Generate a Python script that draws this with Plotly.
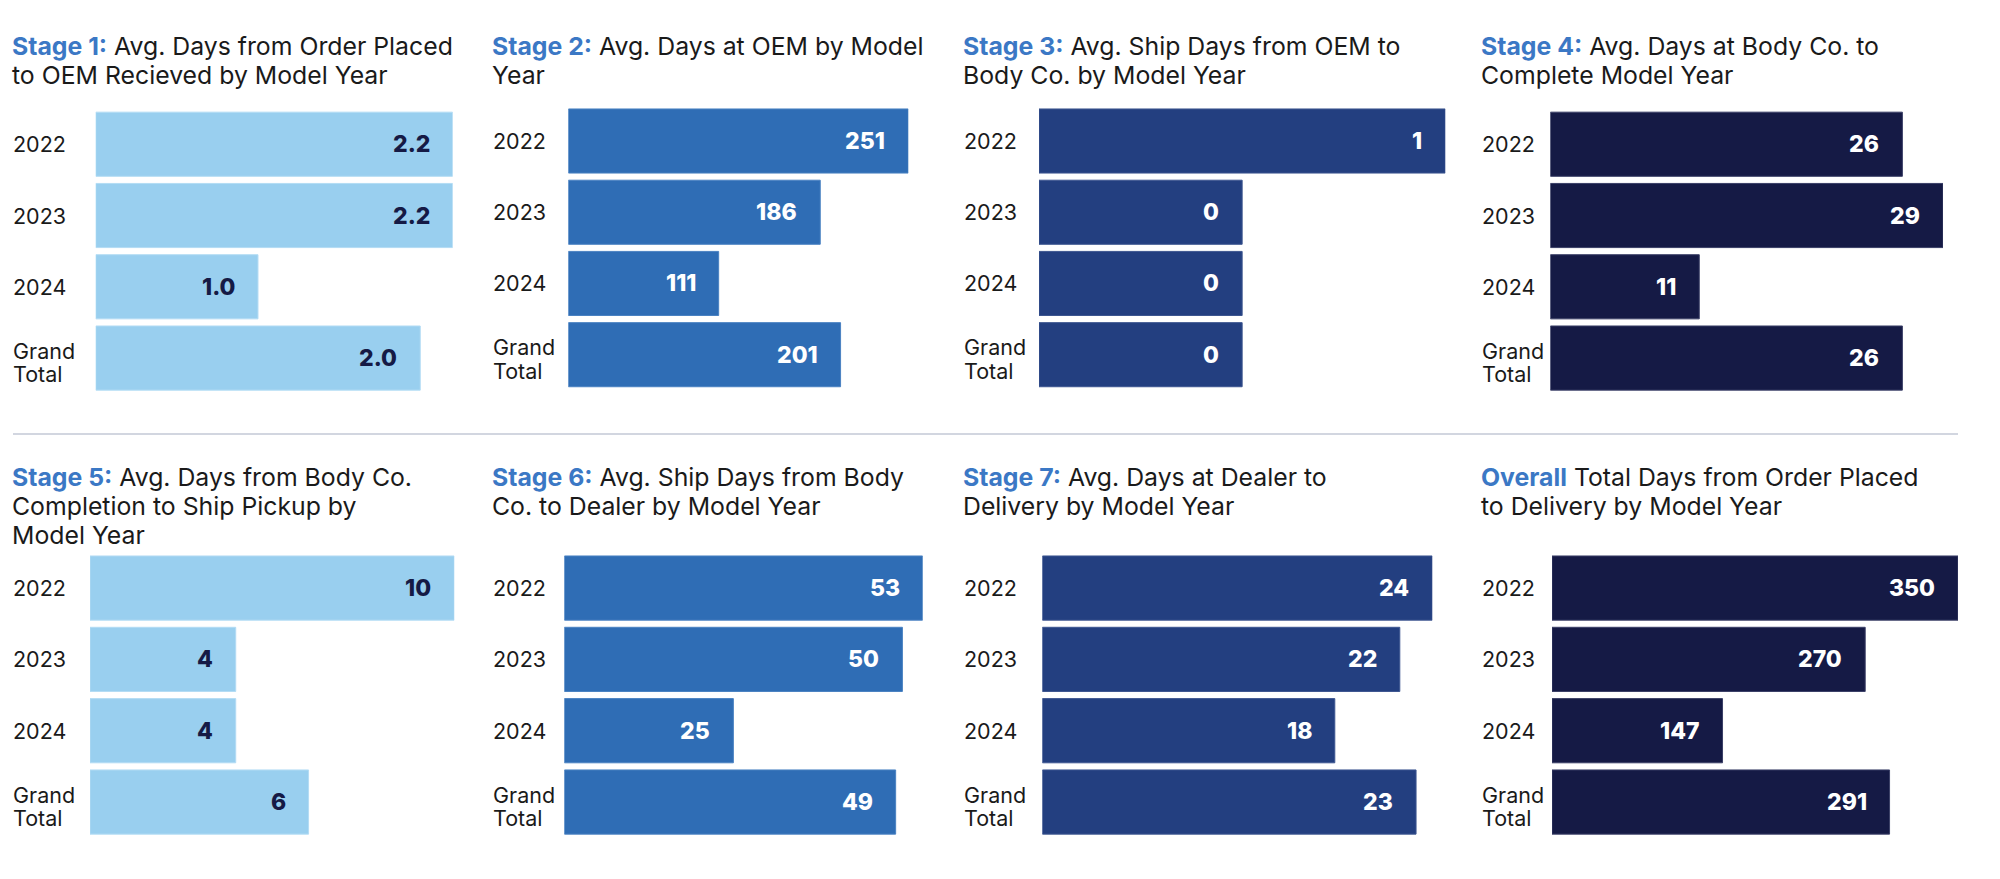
import plotly.graph_objects as go

# ---------------- data ----------------
categories = ["2022", "2023", "2024", "Grand Total"]

stage1_days = [2.2, 2.2, 1.0, 2.0]
stage2_days = [251, 186, 111, 201]
stage3_days = [0.8, 0.4, 0.4, 0.4]   # displayed rounded: 1, 0, 0, 0
stage4_days = [26, 29, 11, 26]
stage5_days = [10, 4, 4, 6]
stage6_days = [53, 50, 25, 49]
stage7_days = [24, 22, 18, 23]
overall_days = [350, 270, 147, 291]

title_leads = ["Stage 1:", "Stage 2:", "Stage 3:", "Stage 4:",
               "Stage 5:", "Stage 6:", "Stage 7:", "Overall"]
title_lines = [
    ["Avg. Days from Order Placed", "to OEM Recieved by Model Year"],
    ["Avg. Days at OEM by Model", "Year"],
    ["Avg. Ship Days from OEM to", "Body Co. by Model Year"],
    ["Avg. Days at Body Co. to", "Complete Model Year"],
    ["Avg. Days from Body Co.", "Completion to Ship Pickup by", "Model Year"],
    ["Avg. Ship Days from Body", "Co. to Dealer by Model Year"],
    ["Avg. Days at Dealer to", "Delivery by Model Year"],
    ["Total Days from Order Placed", "to Delivery by Model Year"],
]

# ---------------- style / layout ----------------
W, H = 2000, 879
FONT = "Inter"
LIGHT, MID, DEEP, DARK = "#99cfef", "#2f6db5", "#233f80", "#151a45"
TITLE_BLUE = "#3b78c5"
TEXT = "#1a1a1a"

series = [stage1_days, stage2_days, stage3_days, stage4_days,
          stage5_days, stage6_days, stage7_days, overall_days]
fmts = [".1f", ".0f", ".0f", ".0f", ".0f", ".0f", ".0f", ".0f"]
bar_colors = [LIGHT, MID, DEEP, DARK, LIGHT, MID, DEEP, DARK]
label_colors = [DARK, "white", "white", "white", DARK, "white", "white", "white"]
edge_colors = ["#b3dcf4", "#4a82c2", "#3d5690", "#3a3f66",
               "#b3dcf4", "#4a82c2", "#3d5690", "#3a3f66"]

# pixel geometry of each panel: bar x-start, x-end (max bar), y top/bottom of plot area
x_spans = [(95.7, 452.7), (568.3, 908.3), (1039.0, 1445.3), (1550.3, 1943.0),
           (90.0, 454.3), (564.3, 922.7), (1042.3, 1432.3), (1552.0, 1958.0)]
y_spans = [(108.6, 393.7), (105.4, 390.3), (105.4, 390.3), (108.6, 393.7),
           (552.4, 837.7), (552.4, 837.7), (552.4, 837.7), (552.4, 837.7)]
col_x = [10, 489.7, 960.7, 1479.0]
title_cap_top = [36.7, 468.0]
LINE_PITCH = 28.6
TITLE_SIZE = 24.8


def px(x):
    return x / W


def py(y):
    return 1 - y / H


fig = go.Figure()
annotations = []
layout_axes = {}

for i, vals in enumerate(series):
    n = i + 1
    xa = "x" if n == 1 else f"x{n}"
    ya = "y" if n == 1 else f"y{n}"
    xk = "xaxis" if n == 1 else f"xaxis{n}"
    yk = "yaxis" if n == 1 else f"yaxis{n}"
    x0, x1 = x_spans[i]
    y0, y1 = y_spans[i]

    fig.add_trace(go.Bar(
        x=vals, y=categories, orientation="h", xaxis=xa, yaxis=ya,
        marker=dict(color=bar_colors[i], line=dict(color=edge_colors[i], width=1)),
        hoverinfo="skip", showlegend=False,
    ))
    layout_axes[xk] = dict(domain=[px(x0), px(x1)], range=[0, max(vals)],
                           visible=False, anchor=ya, fixedrange=True)
    layout_axes[yk] = dict(domain=[py(y1), py(y0)], type="category",
                           categoryarray=categories, range=[3.5, -0.5],
                           visible=False, anchor=xa, fixedrange=True)

    # value labels inside bar ends (category index used as y position)
    for j, v in enumerate(vals):
        annotations.append(dict(
            x=v, y=j, xref=xa, yref=ya, xanchor="right", yanchor="middle",
            xshift=-21, showarrow=False,
            text=format(v, fmts[i]),
            font=dict(family=FONT, size=23, color=label_colors[i], weight=800),
        ))

    # category labels, left aligned
    col = i % 4
    row = i // 4
    lx = col_x[col] + 1
    for j, c in enumerate(categories):
        if c == "Grand Total":
            for word, shift in (("Grand", 7.5), ("Total", -16)):
                annotations.append(dict(
                    x=px(lx), y=j, xref="paper", yref=ya, xanchor="left",
                    yanchor="middle", yshift=shift, showarrow=False, text=word,
                    font=dict(family=FONT, size=21.5, color=TEXT),
                ))
        else:
            annotations.append(dict(
                x=px(lx), y=j, xref="paper", yref=ya, xanchor="left",
                yanchor="middle", showarrow=False, text=c,
                font=dict(family=FONT, size=21.5, color=TEXT),
            ))

    # title lines
    cap_top = title_cap_top[row]
    for k, line in enumerate(title_lines[i]):
        if k == 0:
            txt = (f"<b><span style='color:{TITLE_BLUE}'>{title_leads[i]}</span></b> "
                   f"{line}")
        else:
            txt = line
        top_px = cap_top + k * LINE_PITCH - 7.6
        annotations.append(dict(
            x=px(col_x[col]), y=py(top_px), xref="paper", yref="paper",
            xanchor="left", yanchor="top", showarrow=False, text=txt,
            font=dict(family=FONT, size=TITLE_SIZE, color=TEXT),
        ))

fig.update_layout(
    width=W, height=H,
    margin=dict(l=0, r=0, t=0, b=0),
    paper_bgcolor="white", plot_bgcolor="white",
    bargap=0.1,
    annotations=annotations,
    shapes=[dict(type="line", xref="paper", yref="paper",
                 x0=px(13), x1=px(1958), y0=py(434), y1=py(434),
                 line=dict(color="#c3c8d6", width=1.5))],
    **layout_axes,
)

fig.write_html("out.html", config={"displayModeBar": False})
